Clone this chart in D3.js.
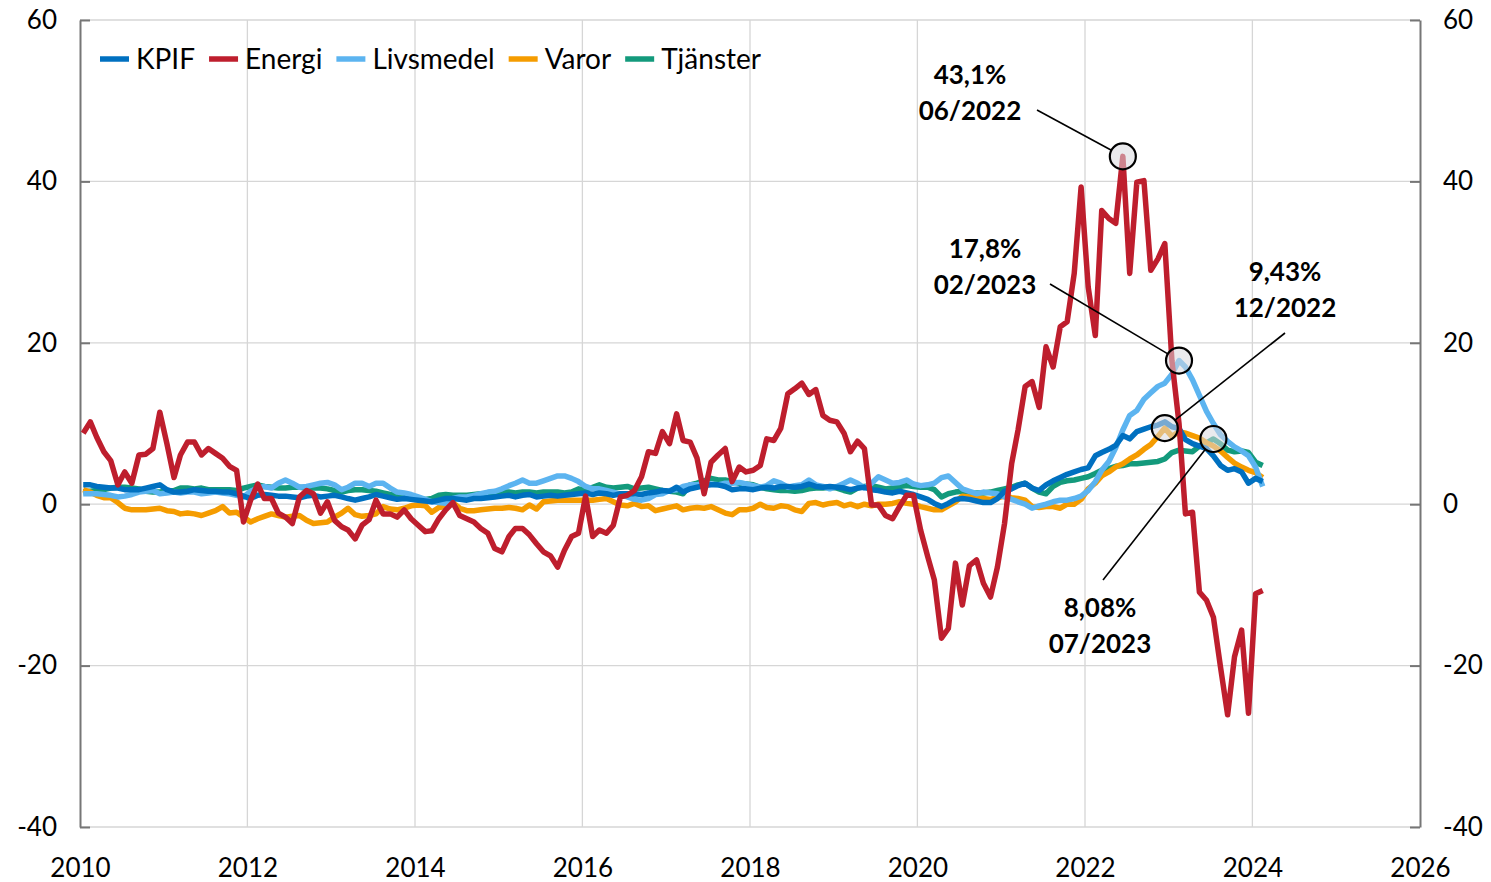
<!DOCTYPE html>
<html>
<head>
<meta charset="utf-8">
<script src="https://cdn.jsdelivr.net/npm/d3@7"></script>
<style>
  body { margin: 0; background: #fff; }
  svg { font-family: Lato, 'Open Sans', sans-serif; }
</style>
</head>
<body>
<div id="chart"></div>
<script>
// monthly data, Jan 2010 - Feb 2024, yearly change in percent
const startYear = 2010;
const names = ['KPIF', 'Energi', 'Livsmedel', 'Varor', 'Tjänster'];
const colors = ['#0070c0', '#be1e2d', '#5cb4f0', '#f59c00', '#139a7c'];

const kpif = [
  2.4, 2.4, 2.2, 2.1, 2.0, 2.0, 1.8, 1.8, 1.8, 2.0, 2.2, 2.4,
  1.8, 1.5, 1.5, 1.6, 1.8, 1.7, 1.6, 1.6, 1.5, 1.5, 1.3, 1.0,
  0.7, 1.1, 1.2, 1.1, 1.0, 1.0, 0.9, 0.8, 1.0, 1.1, 0.9, 1.0,
  1.1, 0.9, 0.7, 0.5, 0.7, 0.9, 1.2, 1.0, 0.8, 0.6, 0.7, 0.6,
  0.5, 0.4, 0.3, 0.5, 0.7, 0.7, 0.6, 0.5, 0.7, 0.7, 0.8, 0.9,
  1.0, 1.1, 0.9, 1.1, 1.2, 0.9, 1.0, 1.1, 1.0, 1.1, 1.2, 1.3,
  1.4, 1.2, 1.4, 1.3, 1.1, 1.3, 1.3, 1.3, 1.2, 1.4, 1.5, 1.7,
  1.6, 2.1, 1.5, 1.9, 2.1, 2.3, 2.4, 2.4, 2.2, 1.8, 1.9, 1.9,
  1.8, 2.0, 2.1, 2.0, 2.2, 2.2, 2.1, 2.2, 2.5, 2.2, 2.1, 2.2,
  2.1, 2.0, 1.8, 2.0, 2.1, 1.8, 1.7, 1.5, 1.4, 1.6, 1.4, 1.2,
  0.9, 0.6, 0.1, -0.3, 0.1, 0.6, 0.7, 0.6, 0.4, 0.2, 0.2, 0.7,
  1.6, 1.9, 2.3, 2.6, 2.0, 1.7, 2.4, 2.9, 3.3, 3.7, 4.0, 4.3,
  4.5, 6.0, 6.4, 6.8, 7.3, 8.5, 8.1, 9.0, 9.3, 9.6, 9.8, 10.2,
  9.6, 9.4, 8.0, 7.5, 7.2, 6.9, 6.0, 4.8, 4.2, 4.4, 4.0, 2.6,
  3.2, 2.8
];

const energi = [
  8.8, 10.2, 8.3, 6.5, 5.4, 2.4, 4.0, 2.6, 6.1, 6.2, 6.9, 11.4,
  7.5, 3.3, 6.1, 7.7, 7.7, 6.1, 6.9, 6.3, 5.7, 4.7, 4.2, -2.2,
  0.5, 2.5, 0.7, 0.7, -1.1, -1.6, -2.4, 0.9, 1.7, 1.3, -1.1, 0.3,
  -2.0, -2.8, -3.2, -4.3, -2.6, -1.9, 0.5, -1.2, -1.2, -1.6, -0.7, -1.8,
  -2.6, -3.4, -3.3, -1.8, -0.7, 0.2, -1.4, -1.8, -2.2, -3.0, -3.6, -5.5,
  -5.9, -4.0, -3.0, -3.0, -3.8, -4.9, -5.9, -6.4, -7.8, -5.7, -4.0, -3.6,
  1.0, -4.0, -3.2, -3.6, -2.6, 0.9, 1.1, 1.7, 3.4, 6.5, 6.3, 9.0,
  7.5, 11.2, 7.9, 7.7, 5.7, 1.3, 5.2, 6.1, 6.9, 2.8, 4.6, 4.0,
  4.2, 4.8, 8.1, 7.9, 9.4, 13.7, 14.3, 15.0, 13.6, 14.2, 11.0, 10.4,
  10.2, 8.8, 6.5, 7.8, 6.9, -0.1, -0.1, -1.4, -1.8, -0.3, 1.1, 1.1,
  -3.2, -6.5, -9.4, -16.6, -15.4, -7.3, -12.5, -7.6, -6.9, -9.8, -11.5, -7.8,
  -2.4, 5.0, 9.2, 14.6, 15.2, 12.0, 19.5, 17.0, 22.0, 22.6, 28.6, 39.3,
  26.9, 20.9, 36.4, 35.4, 34.8, 43.1, 28.6, 39.9, 40.1, 29.0, 30.4, 32.3,
  17.8, 10.0, -1.2, -1.0, -10.9, -11.9, -14.0, -20.2, -26.1, -18.9, -15.6, -25.9,
  -11.1, -10.7
];

const livsmedel = [
  1.3, 1.3, 1.3, 1.2, 1.1, 0.9, 1.0, 1.2, 1.5, 1.6, 1.7, 1.3,
  1.4, 1.5, 1.4, 1.5, 1.5, 1.3, 1.4, 1.5, 1.4, 1.3, 1.1, 0.9,
  1.6, 2.0, 2.2, 2.0, 2.6, 3.0, 2.6, 2.1, 2.2, 2.4, 2.6, 2.7,
  2.4, 1.8, 2.1, 2.6, 2.6, 2.2, 2.6, 2.6, 2.0, 1.5, 1.4, 1.2,
  0.9, 0.6, 0.3, 0.2, 0.1, 0.7, 0.9, 0.9, 1.1, 1.3, 1.5, 1.6,
  1.9, 2.3, 2.6, 3.0, 2.6, 2.6, 2.9, 3.2, 3.5, 3.5, 3.2, 2.8,
  2.2, 1.9, 1.9, 1.7, 1.5, 1.2, 0.9, 0.6, 0.5, 0.7, 1.2, 1.3,
  1.7, 1.8, 2.2, 2.4, 2.4, 2.6, 2.5, 2.4, 2.6, 2.6, 2.7, 2.5,
  2.3, 2.1, 2.3, 2.9, 2.6, 2.1, 2.3, 2.4, 3.0, 2.4, 2.2, 1.9,
  2.2, 2.6, 3.0, 2.6, 2.0, 2.6, 3.4, 3.0, 2.6, 2.7, 3.0, 2.5,
  2.3, 2.4, 2.6, 3.3, 3.5, 2.7, 1.9, 1.6, 1.3, 1.5, 1.4, 1.3,
  0.9, 0.6, 0.3, 0.0, -0.5, -0.2, 0.0, 0.3, 0.5, 0.5, 0.7, 1.0,
  1.7, 2.8, 4.2, 5.3, 7.0, 9.2, 11.0, 11.6, 13.0, 13.8, 14.6, 15.0,
  16.1, 17.8, 17.0, 15.4, 13.5, 11.5, 10.0, 8.6, 7.8, 7.1, 6.6, 6.0,
  4.6, 2.2
];

const varor = [
  1.8, 1.5, 1.1, 0.8, 0.8, 0.2, -0.5, -0.7, -0.7, -0.7, -0.6, -0.5,
  -0.8, -0.9, -1.2, -1.1, -1.2, -1.4, -1.1, -0.8, -0.3, -1.1, -1.0, -1.6,
  -2.2, -1.8, -1.5, -1.2, -1.4, -1.6, -1.5, -1.4, -2.0, -2.4, -2.3, -2.2,
  -1.6, -1.1, -0.5, -1.3, -1.5, -1.4, -1.2, -0.3, -0.6, -0.7, -0.5, -0.2,
  -0.1, -0.2, -1.0, -0.4, -0.3, 0.2, -0.5, -0.8, -0.8, -0.7, -0.6, -0.5,
  -0.5, -0.4, -0.5, -0.7, -0.1, -0.6, 0.3, 0.4, 0.5, 0.5, 0.5, 0.5,
  0.5, 0.5, 0.6, 0.7, 0.3, -0.1, -0.2, 0.1, -0.3, -0.2, -0.8, -0.6,
  -0.4, -0.2, -0.7, -0.5, -0.4, -0.5, -0.3, -0.7, -1.1, -1.3, -0.7, -0.7,
  -0.5, 0.0, -0.4, -0.5, -0.2, -0.3, -0.7, -0.9, 0.1, 0.2, -0.1, 0.1,
  0.2, -0.2, 0.0, -0.3, 0.0, -0.2, 0.0, 0.0, 0.1, 0.3, 0.1, 0.0,
  -0.3, -0.5, -0.7, -0.7, -0.2, 0.3, 1.0, 0.9, 0.8, 0.7, 0.6, 0.8,
  1.0, 0.8, 0.7, 0.5, -0.3, -0.4, -0.3, -0.3, -0.5, 0.0, 0.0, 0.6,
  1.9, 2.6, 3.5, 4.0, 4.6, 5.0, 5.6, 6.1, 6.8, 7.4, 8.4, 9.43,
  8.4, 9.0, 8.8, 8.5, 8.2, 7.6, 7.2, 6.6, 5.8, 5.1, 4.6, 4.2,
  3.9, 3.3
];

const tjanster = [
  1.5, 1.6, 1.7, 1.8, 2.0, 2.1, 2.1, 2.0, 1.9, 1.6, 1.5, 1.5,
  1.6, 1.7, 2.0, 2.0, 1.9, 2.0, 1.8, 1.8, 1.8, 1.8, 1.7, 2.0,
  2.2, 2.4, 2.2, 2.1, 2.0, 2.0, 2.1, 2.1, 2.0, 2.0, 2.0, 1.9,
  1.7, 1.5, 1.7, 1.8, 1.8, 1.7, 1.6, 1.4, 1.2, 1.1, 1.0, 0.9,
  0.7, 0.6, 0.7, 1.1, 1.2, 1.1, 1.1, 1.1, 1.2, 1.3, 1.3, 1.4,
  1.5, 1.5, 1.4, 1.5, 1.5, 1.4, 1.5, 1.5, 1.5, 1.4, 1.5, 1.9,
  1.8, 2.1, 2.4, 2.1, 2.0, 2.1, 2.2, 1.9, 2.0, 2.1, 1.9, 1.7,
  1.6, 1.5, 1.3, 2.4, 2.6, 2.9, 3.2, 3.0, 3.0, 2.8, 2.6, 2.5,
  2.4, 2.1, 1.9, 1.8, 1.7, 1.7, 1.6, 1.7, 1.9, 2.0, 2.0, 2.1,
  2.0, 1.7, 1.5, 2.0, 2.2, 2.3, 2.1, 1.9, 2.0, 2.2, 2.3, 2.2,
  2.1, 2.1, 1.8, 0.9, 1.3, 1.5, 1.6, 1.3, 1.4, 1.4, 1.5, 1.7,
  1.9, 2.1, 2.4, 2.6, 2.0, 1.5, 1.3, 2.2, 2.7, 2.9, 3.0, 3.2,
  3.4, 3.8, 4.2, 4.4, 4.7, 4.8, 5.0, 5.0, 5.1, 5.2, 5.3, 5.6,
  6.4, 6.7, 6.6, 6.5, 7.2, 7.6, 8.08, 7.5, 6.7, 6.5, 6.6, 6.4,
  5.2, 4.8
];

const seriesValues = [kpif, energi, livsmedel, varor, tjanster];
const yTicks = [-40, -20, 0, 20, 40, 60];
const xTicks = [2010, 2012, 2014, 2016, 2018, 2020, 2022, 2024, 2026];

// highlighted points: series index, month label, value text
const highlights = [
  { series: 1, month: '06/2022', label: '43,1%' },
  { series: 2, month: '02/2023', label: '17,8%' },
  { series: 3, month: '12/2022', label: '9,43%' },
  { series: 4, month: '07/2023', label: '8,08%' }
];
// label centre and leader start, in pixels
const highlightLayout = [
  { tx: 970, ty: 75, lx: 1037, ly: 110 },
  { tx: 985, ty: 249, lx: 1050, ly: 284 },
  { tx: 1285, ty: 272, lx: 1285, ly: 333 },
  { tx: 1100, ty: 608, lx: 1103, ly: 580 }
];

const width = 1491;
const height = 882;
const margin = { top: 20, right: 71, bottom: 55, left: 80 };

const svg = d3.select('#chart').append('svg').attr('width', width).attr('height', height);

const x = d3
  .scaleTime()
  .domain([new Date(2010, 0, 1), new Date(2026, 0, 1)])
  .range([margin.left, width - margin.right]);
const y = d3
  .scaleLinear()
  .domain([-40, 60])
  .range([height - margin.bottom, margin.top]);

const dateOf = (i) => new Date(startYear, i, 15);
const monthIndex = (m) => {
  const [mm, yy] = m.split('/').map(Number);
  return (yy - startYear) * 12 + mm - 1;
};

// grid
const grid = svg.append('g').attr('stroke', '#d6d6d6').attr('stroke-width', 1.3);
grid
  .selectAll('line.h')
  .data(yTicks)
  .join('line')
  .attr('x1', margin.left)
  .attr('x2', width - margin.right)
  .attr('y1', (d) => y(d))
  .attr('y2', (d) => y(d));
grid
  .selectAll('line.v')
  .data(xTicks.slice(1, -1))
  .join('line')
  .attr('x1', (d) => x(new Date(d, 0, 1)))
  .attr('x2', (d) => x(new Date(d, 0, 1)))
  .attr('y1', margin.top)
  .attr('y2', height - margin.bottom);

// axes
const plain = (d) => String(d);
const leftAxis = d3.axisLeft(y).tickValues(yTicks).tickFormat(plain).tickSizeInner(-10).tickSizeOuter(0).tickPadding(23);
const rightAxis = d3.axisRight(y).tickValues(yTicks).tickFormat(plain).tickSizeInner(-10).tickSizeOuter(0).tickPadding(23);
const bottomAxis = d3
  .axisBottom(x)
  .tickValues(xTicks.map((d) => new Date(d, 0, 1)))
  .tickFormat(d3.timeFormat('%Y'))
  .tickSize(0)
  .tickPadding(32);

const styleAxis = (g) => {
  g.attr('font-family', null).attr('font-size', 26);
  g.selectAll('text').attr('fill', '#000');
  g.select('.domain').attr('stroke', '#767676').attr('stroke-width', 2);
  g.selectAll('.tick line').attr('stroke', '#767676').attr('stroke-width', 2);
};

svg.append('g').attr('transform', `translate(${margin.left},0)`).call(leftAxis).call(styleAxis);
svg.append('g').attr('transform', `translate(${width - margin.right},0)`).call(rightAxis).call(styleAxis);
svg
  .append('g')
  .attr('transform', `translate(0,${height - margin.bottom})`)
  .call(bottomAxis)
  .call(styleAxis)
  .call((g) => g.select('.domain').remove());

// lines
const line = d3
  .line()
  .x((d, i) => x(dateOf(i)))
  .y((d) => y(d));

const drawOrder = [4, 3, 2, 0, 1];
svg
  .append('g')
  .attr('fill', 'none')
  .attr('stroke-width', 5.5)
  .attr('stroke-linejoin', 'round')
  .selectAll('path')
  .data(drawOrder)
  .join('path')
  .attr('stroke', (k) => colors[k])
  .attr('d', (k) => line(seriesValues[k]));

// highlights
const r = 13;
const hl = svg.append('g');
highlights.forEach((h, k) => {
  const i = monthIndex(h.month);
  const cx = x(dateOf(i));
  const cy = y(seriesValues[h.series][i]);
  const pos = highlightLayout[k];
  const ang = Math.atan2(cy - pos.ly, cx - pos.lx);
  hl.append('line')
    .attr('x1', pos.lx)
    .attr('y1', pos.ly)
    .attr('x2', cx - r * Math.cos(ang))
    .attr('y2', cy - r * Math.sin(ang))
    .attr('stroke', '#000')
    .attr('stroke-width', 1.6);
  hl.append('circle')
    .attr('cx', cx)
    .attr('cy', cy)
    .attr('r', r)
    .attr('fill', '#d9d9de')
    .attr('fill-opacity', 0.55)
    .attr('stroke', '#000')
    .attr('stroke-width', 2.2);
  const t = hl
    .append('text')
    .attr('text-anchor', 'middle')
    .attr('font-weight', 'bold')
    .attr('font-size', 26);
  t.append('tspan').attr('x', pos.tx).attr('y', pos.ty + 9).text(h.label);
  t.append('tspan').attr('x', pos.tx).attr('y', pos.ty + 45).text(h.month);
});

// legend
const legend = svg.append('g').attr('transform', 'translate(100,59)').attr('font-size', 28);
let lx = 0;
names.forEach((name, k) => {
  legend
    .append('line')
    .attr('x1', lx)
    .attr('x2', lx + 29)
    .attr('stroke', colors[k])
    .attr('stroke-width', 5.5);
  const t = legend
    .append('text')
    .attr('x', lx + 36)
    .attr('dy', '0.35em')
    .text(name);
  lx += 36 + t.node().getComputedTextLength() + 14;
});
</script>
</body>
</html>
